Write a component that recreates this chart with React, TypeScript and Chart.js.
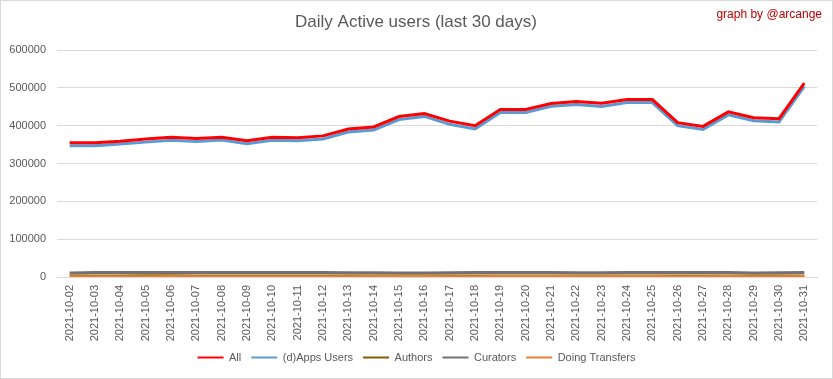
import React, { useEffect, useRef } from "react";
import { Chart, registerables } from "chart.js";

Chart.register(...registerables);

const dates: string[] = [
  "2021-10-02", "2021-10-03", "2021-10-04", "2021-10-05", "2021-10-06", "2021-10-07",
  "2021-10-08", "2021-10-09", "2021-10-10", "2021-10-11", "2021-10-12", "2021-10-13",
  "2021-10-14", "2021-10-15", "2021-10-16", "2021-10-17", "2021-10-18", "2021-10-19",
  "2021-10-20", "2021-10-21", "2021-10-22", "2021-10-23", "2021-10-24", "2021-10-25",
  "2021-10-26", "2021-10-27", "2021-10-28", "2021-10-29", "2021-10-30", "2021-10-31",
];

const allUsers: number[] = [
  355000, 355000, 359000, 364500, 369500, 366000, 369500, 360000, 369500, 368000,
  373000, 391000, 396500, 424000, 432000, 412000, 400000, 443000, 443000, 458500,
  464000, 459000, 469000, 469000, 408000, 398000, 436500, 421000, 418500, 512500,
];

const appsUsers: number[] = [
  347000, 347000, 351500, 356500, 361500, 358000, 362000, 352500, 361500, 360000,
  365000, 383000, 388500, 416000, 424500, 403500, 391500, 435000, 435000, 451000,
  456000, 451000, 461000, 461000, 400000, 390000, 428500, 413000, 410000, 504000,
];

const authors: number[] = [
  2800, 2900, 2900, 3000, 3000, 2900, 2900, 2800, 2900, 2900,
  2900, 2800, 2800, 2700, 2800, 2900, 2900, 2900, 2900, 2800,
  2800, 2800, 2900, 2900, 2800, 2800, 2900, 2800, 2800, 2900,
];

const curators: number[] = [
  10500, 11800, 12000, 12100, 12200, 12000, 12100, 11900, 12000, 12100,
  12000, 11300, 11500, 10800, 10900, 11500, 11700, 11900, 12000, 11600,
  11300, 11000, 11800, 11900, 11900, 11700, 11900, 10900, 11000, 12200,
];

const doingTransfers: number[] = [
  900, 900, 950, 950, 1000, 950, 950, 900, 950, 950,
  950, 950, 1000, 1000, 1000, 950, 950, 1000, 1000, 1000,
  1000, 1000, 1000, 1000, 950, 950, 1000, 950, 950, 1000,
];

const yTicks: number[] = [0, 100000, 200000, 300000, 400000, 500000, 600000];

const seriesNames: string[] = ["All", "(d)Apps Users", "Authors", "Curators", "Doing Transfers"];
const seriesColors: string[] = ["#ff0000", "#5b9bd5", "#806000", "#767171", "#ed7d31"];

const FONT = "'Liberation Sans', Arial, sans-serif";

export default function App() {
  const ref = useRef<HTMLCanvasElement | null>(null);

  useEffect(() => {
    document.body.style.margin = "0";
    const canvas = ref.current;
    if (!canvas) return;

    const seriesData = [allUsers, appsUsers, authors, curators, doingTransfers];
    const drawOrder = [1, 2, 4, 5, 3];

    const decor = {
      id: "decor",
      afterDraw(chart: any) {
        const ctx = chart.ctx;
        ctx.save();
        ctx.strokeStyle = "#d9d9d9";
        ctx.lineWidth = 1;
        ctx.strokeRect(0.5, 0.5, chart.width - 1, chart.height - 1);
        ctx.fillStyle = "#595959";
        ctx.font = `17px ${FONT}`;
        ctx.textAlign = "center";
        ctx.textBaseline = "middle";
        ctx.fillText("Daily Active users (last 30 days)", 416, 22);
        ctx.fillStyle = "#c00000";
        ctx.font = `12px ${FONT}`;
        ctx.textAlign = "right";
        ctx.fillText("graph by @arcange", 822, 15);
        ctx.restore();
      },
    };

    const chart = new Chart(canvas, {
      type: "line",
      data: {
        labels: dates,
        datasets: seriesNames.map((name, i) => ({
          label: name,
          data: seriesData[i],
          borderColor: seriesColors[i],
          backgroundColor: seriesColors[i],
          borderWidth: 3,
          pointRadius: 0,
          tension: 0,
          fill: false,
          order: drawOrder[i],
          yAxisID: "y",
        })),
      },
      options: {
        animation: false,
        responsive: true,
        maintainAspectRatio: false,
        layout: { padding: { left: 8, right: 8, top: 50, bottom: 6 } },
        plugins: {
          title: { display: false },
          legend: {
            position: "bottom",
            labels: {
              color: "#595959",
              font: { family: FONT, size: 11 },
              boxWidth: 26,
              boxHeight: 2,
              padding: 10,
              generateLabels: (ch: any) =>
                ch.data.datasets.map((ds: any, i: number) => ({
                  text: ds.label,
                  fillStyle: ds.borderColor,
                  strokeStyle: ds.borderColor,
                  lineWidth: 0,
                  hidden: false,
                  datasetIndex: i,
                  fontColor: "#595959",
                })),
            },
          },
          tooltip: { enabled: false },
        },
        scales: {
          x: {
            offset: true,
            grid: { display: false, drawTicks: false },
            border: { display: true, color: "#d9d9d9", width: 1 },
            ticks: {
              color: "#595959",
              font: { family: FONT, size: 11 },
              minRotation: 90,
              maxRotation: 90,
              autoSkip: false,
              padding: 8,
            },
            afterFit: (scale: any) => {
              scale.height = 65;
            },
          },
          y: {
            position: "left",
            min: 0,
            max: 600000,
            afterBuildTicks: (scale: any) => {
              scale.ticks = yTicks.map((v) => ({ value: v }));
            },
            grid: { color: "#d9d9d9", drawTicks: false, lineWidth: 1 },
            border: { display: false },
            ticks: {
              color: "#595959",
              font: { family: FONT, size: 11 },
              padding: 11,
              callback: (v: any) => String(v),
            },
            afterFit: (scale: any) => {
              scale.width = 49;
            },
          },
          yRight: {
            type: "linear",
            position: "right",
            display: true,
            min: 0,
            max: 600000,
            grid: { display: false, drawTicks: false },
            border: { display: false },
            ticks: { display: false },
            afterFit: (scale: any) => {
              scale.width = 8;
            },
          },
        },
      },
      plugins: [decor],
    });

    return () => chart.destroy();
  }, []);

  return (
    <div style={{ width: 833, height: 379, position: "relative" }}>
      <canvas ref={ref} />
    </div>
  );
}
